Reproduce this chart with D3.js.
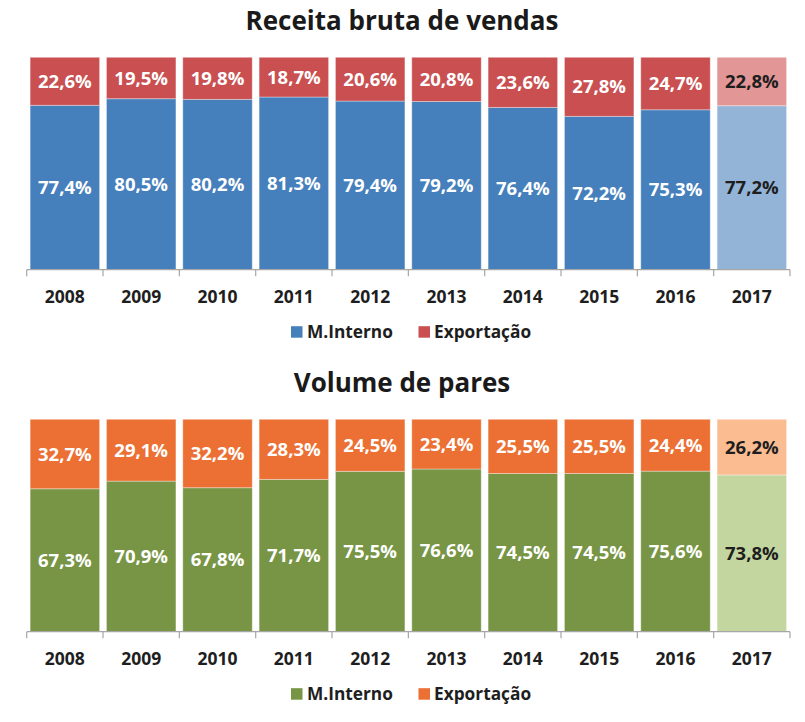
<!DOCTYPE html>
<html><head><meta charset="utf-8">
<script src="https://cdn.jsdelivr.net/npm/d3@7"></script>
<style>body{margin:0;background:#fff}svg{display:block}text{font-family:"Open Sans",sans-serif;font-weight:700}</style>
</head><body>
<svg id="c" width="805" height="722"></svg>
<script>
const years = ["2008","2009","2010","2011","2012","2013","2014","2015","2016","2017"];
const receitaInterno = [77.4,80.5,80.2,81.3,79.4,79.2,76.4,72.2,75.3,77.2];
const receitaExport  = [22.6,19.5,19.8,18.7,20.6,20.8,23.6,27.8,24.7,22.8];
const paresInterno = [67.3,70.9,67.8,71.7,75.5,76.6,74.5,74.5,75.6,73.8];
const paresExport  = [32.7,29.1,32.2,28.3,24.5,23.4,25.5,25.5,24.4,26.2];
const seriesNames = ["M.Interno","Exportação"];
const titles = ["Receita bruta de vendas","Volume de pares"];

const svg = d3.select("#c");
const x = d3.scaleBand().domain(years).range([26.7,790]).paddingInner(0.09).paddingOuter(0.045);
const fmt = v => d3.format(".1f")(v).replace(".", ",") + "%";

function panel(y0, title, interno, exportv, colors, lightColors){
  const g = svg.append("g").attr("transform", `translate(0,${y0})`);
  const y = d3.scaleLinear().domain([0,100]).range([212.4,0]);
  g.append("text").attr("x",402).attr("y",-27).attr("text-anchor","middle")
    .attr("font-size",26).attr("fill","#1a1a1a").text(title);
  const rows = years.map((yr,i)=>({yr, i, v:[interno[i], exportv[i]]}));
  const stack = d3.stack().keys([0,1]).value((d,k)=>d.v[k])(rows);
  stack.forEach((layer,k)=>{
    const sel = g.selectAll(null).data(layer).enter();
    sel.append("rect")
      .attr("x", d=>x(d.data.yr)).attr("width", x.bandwidth())
      .attr("y", d=>y(d[1])).attr("height", d=>y(d[0])-y(d[1]))
      .attr("fill", d=> d.data.i===years.length-1 ? lightColors[k] : colors[k])
      .attr("stroke","rgba(255,255,255,0.35)").attr("stroke-width",1);
    sel.append("text")
      .attr("x", d=>x(d.data.yr)+x.bandwidth()/2)
      .attr("y", d=>(y(d[0])+y(d[1]))/2).attr("dy","0.36em")
      .attr("text-anchor","middle").attr("font-size",18.5)
      .attr("fill", d=> d.data.i===years.length-1 ? "#1e1e1e" : "#fff")
      .text(d=>fmt(d.data.v[k]));
  });
  // axis
  const ax = g.append("g").attr("transform",`translate(0,${y(0)})`);
  ax.append("line").attr("x1",x.range()[0]).attr("x2",x.range()[1]).attr("stroke","#a6a6a6").attr("stroke-width",1.2);
  const half = x.step()*x.paddingInner()/2;
  const bounds = years.map(d=>x(d)-half).concat([x(years[years.length-1])+x.bandwidth()+half]);
  ax.selectAll(null).data(bounds).enter().append("line")
    .attr("x1",d=>d).attr("x2",d=>d).attr("y1",0).attr("y2",6.5).attr("stroke","#a6a6a6").attr("stroke-width",1.2);
  ax.selectAll(null).data(years).enter().append("text")
    .attr("x",d=>x(d)+x.bandwidth()/2).attr("y",33.6).attr("text-anchor","middle")
    .attr("font-size",17.5).attr("fill","#1e1e1e").text(d=>d);
  // legend
  const lg = g.append("g").attr("transform",`translate(0,${y(0)+62})`);
  const items = [{n:seriesNames[0],c:colors[0],sx:291,tx:307},{n:seriesNames[1],c:colors[1],sx:418.5,tx:434}];
  items.forEach(it=>{
    lg.append("rect").attr("x",it.sx).attr("y",-5.5).attr("width",11.5).attr("height",11.5).attr("fill",it.c);
    lg.append("text").attr("x",it.tx).attr("y",0).attr("dy","0.36em").attr("font-size",17.3).attr("fill","#1e1e1e").text(it.n);
  });
}
panel(57.3, titles[0], receitaInterno, receitaExport, ["#4680BC","#C94F51"], ["#93B4D7","#E29695"]);
panel(419.3, titles[1], paresInterno, paresExport, ["#779544","#EC6F33"], ["#C4D6A0","#FBBC92"]);
</script>
</body></html>
